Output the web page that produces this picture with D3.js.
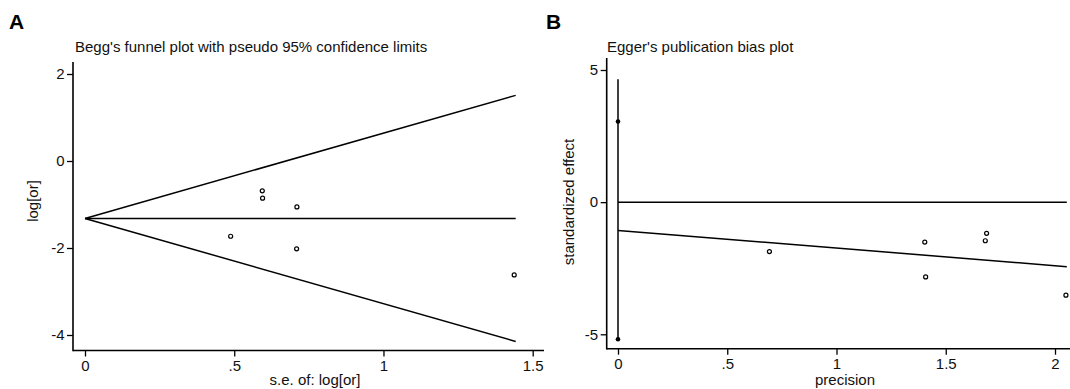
<!DOCTYPE html>
<html>
<head>
<meta charset="utf-8">
<script src="https://cdn.jsdelivr.net/npm/d3@7"></script>
<style>
  body { margin: 0; background: #fff; }
  svg { display: block; font-family: "Liberation Sans", Arial, sans-serif; }
</style>
</head>
<body>
<svg id="chart" width="1070" height="389"></svg>
<script>
(function() {

    // Begg's funnel plot (panel A)
    var beggSE = [0.594, 0.595, 0.710, 0.488, 0.709, 1.438];
    var beggLogOR = [-0.685, -0.855, -1.055, -1.73, -2.02, -2.62];
    var beggPooled = -1.32; // pooled log[or]
    var beggSEMax = 1.443;  // funnel drawn out to this s.e.
    var beggXTicks = [0, 0.5, 1, 1.5];
    var beggYTicks = [-4, -2, 0, 2];

    // Egger's publication bias plot (panel B)
    var eggerPrecision = [1.687, 1.681, 1.404, 2.05, 1.408, 0.693];
    var eggerEffect = [-1.18, -1.46, -1.51, -3.52, -2.83, -1.87];
    var eggerIntercept = -1.07,
        eggerSlope = -0.667,
        eggerPrecMax = 2.054;
    var eggerCI = [-5.19, 3.05]; // markers on the bias spike
    var eggerSpikeTop = 4.65;
    var eggerXTicks = [0, 0.5, 1, 1.5, 2];
    var eggerYTicks = [-5, 0, 5];

    var svg = d3.select('#chart');
    var ink = '#000', txt = '#111';

    function fmt(d) {
        return String(d).replace(/^0\./, '.').replace(/^-0\./, '-.');
    }

    function panel(o) {
        var g = svg.append('g');

        // panel letter + title
        g.append('text')
            .attr('x', o.letterX).attr('y', 29)
            .attr('font-size', 21).attr('font-weight', 'bold')
            .attr('fill', ink)
            .text(o.letter);
        g.append('text')
            .attr('x', o.titleX).attr('y', 52)
            .attr('font-size', 15).attr('fill', txt)
            .text(o.title);

        // axis lines (Stata style, frame left + bottom)
        g.append('line')
            .attr('x1', o.left).attr('x2', o.left)
            .attr('y1', o.top).attr('y2', o.bottom + 0.8)
            .attr('stroke', ink).attr('stroke-width', 1.6);
        g.append('line')
            .attr('x1', o.left).attr('x2', o.right)
            .attr('y1', o.bottom).attr('y2', o.bottom)
            .attr('stroke', ink).attr('stroke-width', 1.6);

        var xa = g.append('g')
            .attr('transform', 'translate(0,' + o.bottom + ')')
            .call(d3.axisBottom(o.x).tickValues(o.xTicks).tickSize(6)
                .tickPadding(4).tickFormat(fmt));
        var ya = g.append('g')
            .attr('transform', 'translate(' + o.left + ',0)')
            .call(d3.axisLeft(o.y).tickValues(o.yTicks).tickSize(6)
                .tickPadding(2.5).tickFormat(fmt));

        [xa, ya].forEach(function(a) {
            a.select('.domain').remove();
            a.selectAll('line').attr('stroke', ink).attr('stroke-width', 1.3);
            a.selectAll('text').attr('font-size', 15).attr('fill', txt)
                .attr('font-family', null);
        });

        g.append('text')
            .attr('x', o.xLabelX).attr('y', 385)
            .attr('text-anchor', 'middle')
            .attr('font-size', 15).attr('fill', txt)
            .text(o.xLabel);
        g.append('text')
            .attr('transform', 'translate(' + o.yLabelX + ',' + o.yLabelY + ') rotate(-90)')
            .attr('text-anchor', 'middle')
            .attr('dy', '0.35em')
            .attr('font-size', 15).attr('fill', txt)
            .text(o.yLabel);

        return g;
    }

    // ---- A ----
    var xA = d3.scaleLinear().domain([0, 1.5]).range([85, 532.7]);
    var yA = d3.scaleLinear().domain([-4, 2]).range([335, 74]);

    var gA = panel({
        letter: 'A', letterX: 9, title: "Begg's funnel plot with pseudo 95% confidence limits", titleX: 75,
        left: 73, right: 544, top: 62, bottom: 350.5,
        x: xA, y: yA, xTicks: beggXTicks, yTicks: beggYTicks,
        xLabel: 's.e. of: log[or]', xLabelX: 315,
        yLabel: 'log[or]', yLabelX: 33, yLabelY: 201
    });

    var line = d3.line()
        .x(function(d) { return d[0]; })
        .y(function(d) { return d[1]; });

    var funnel = [
        [[0, beggPooled], [beggSEMax, beggPooled + 1.96 * beggSEMax]],
        [[0, beggPooled], [beggSEMax, beggPooled]],
        [[0, beggPooled], [beggSEMax, beggPooled - 1.96 * beggSEMax]]
    ];
    gA.selectAll('path.funnel')
        .data(funnel)
        .enter()
        .append('path')
        .attr('class', 'funnel')
        .attr('d', function(d) {
            return line(d.map(function(p) { return [xA(p[0]), yA(p[1])]; }));
        })
        .attr('fill', 'none').attr('stroke', ink).attr('stroke-width', 1.5);

    gA.selectAll('circle')
        .data(beggSE)
        .enter()
        .append('circle')
        .attr('cx', function(d) { return xA(d); })
        .attr('cy', function(d, i) { return yA(beggLogOR[i]); })
        .attr('r', 2)
        .attr('fill', '#fff').attr('stroke', ink).attr('stroke-width', 1.2);

    // ---- B ----
    var xB = d3.scaleLinear().domain([0, 2]).range([618, 1055]);
    var yB = d3.scaleLinear().domain([-5, 5]).range([334.3, 70]);

    var gB = panel({
        letter: 'B', letterX: 546, title: "Egger's publication bias plot", titleX: 607,
        left: 606.7, right: 1070, top: 58, bottom: 348.7,
        x: xB, y: yB, xTicks: eggerXTicks, yTicks: eggerYTicks,
        xLabel: 'precision', xLabelX: 845,
        yLabel: 'standardized effect', yLabelX: 569, yLabelY: 202
    });

    // zero line, regression line and the bias spike at precision 0
    var eggerLines = [
        [[0, 0], [eggerPrecMax, 0]],
        [[0, eggerIntercept], [eggerPrecMax, eggerIntercept + eggerSlope * eggerPrecMax]],
        [[0, eggerSpikeTop], [0, eggerCI[0]]]
    ];
    gB.selectAll('path.reg')
        .data(eggerLines)
        .enter()
        .append('path')
        .attr('class', 'reg')
        .attr('d', function(d) {
            return line(d.map(function(p) { return [xB(p[0]), yB(p[1])]; }));
        })
        .attr('fill', 'none').attr('stroke', ink).attr('stroke-width', 1.5);

    gB.selectAll('circle.ci')
        .data(eggerCI)
        .enter()
        .append('circle')
        .attr('class', 'ci')
        .attr('cx', xB(0))
        .attr('cy', function(d) { return yB(d); })
        .attr('r', 2.3)
        .attr('fill', ink);

    gB.selectAll('circle.pt')
        .data(eggerPrecision)
        .enter()
        .append('circle')
        .attr('class', 'pt')
        .attr('cx', function(d) { return xB(d); })
        .attr('cy', function(d, i) { return yB(eggerEffect[i]); })
        .attr('r', 2)
        .attr('fill', '#fff').attr('stroke', ink).attr('stroke-width', 1.2);

})();
</script>
</body>
</html>
